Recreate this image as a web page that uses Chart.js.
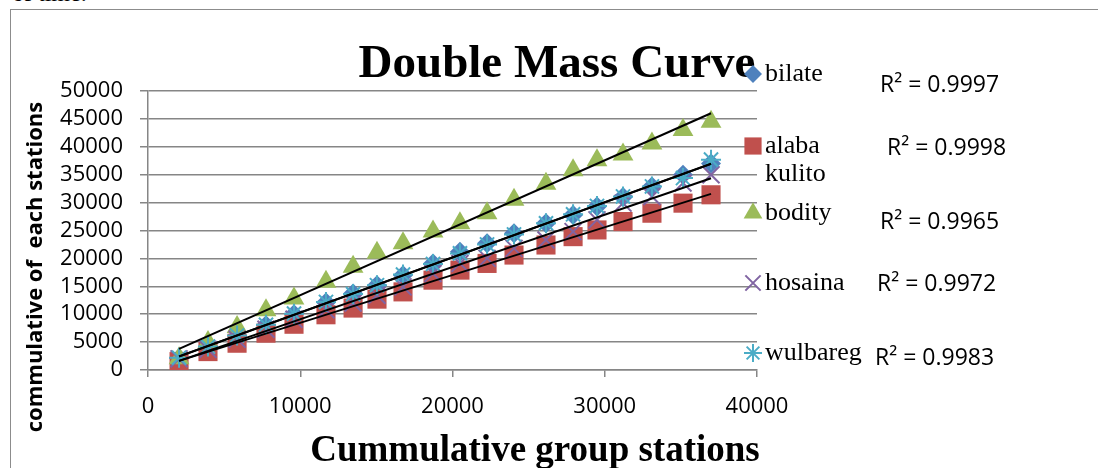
<!DOCTYPE html>
<html>
<head>
<meta charset="utf-8">
<script src="https://cdn.jsdelivr.net/npm/chart.js@4.4.1/dist/chart.umd.min.js"></script>
<style>
  html, body { margin: 0; padding: 0; background: #fff; overflow: hidden; }
  #wrap { position: relative; width: 1098px; height: 468px; }
  #frame { position: absolute; left: 10px; top: 9px; right: 0; bottom: 0; border-left: 1px solid #8c8c8c; border-top: 1px solid #8c8c8c; }
  #prev { position: absolute; left: 12px; top: -20px; font: 24px "Liberation Serif"; color: #000; }
  canvas { position: absolute; left: 0; top: 0; }
</style>
</head>
<body>
<div id="wrap">
  <div id="prev">of time.</div>
  <div id="frame"></div>
  <canvas id="chart" width="1098" height="468"></canvas>
</div>
<script>
// cumulative of the group (x) and of each station (y)
const groupCum = [2040, 3940, 5850, 7750, 9590, 11690, 13470, 15040, 16750, 18720, 20490, 22270, 24040, 26140, 27920, 29490, 31200, 33100, 35140, 36980]
const bilate   = [2100, 4100, 6100, 8000, 10000, 12100, 13700, 15200, 17000, 19100, 21200, 22700, 24500, 26300, 27800, 29300, 31000, 32900, 35000, 37000]
const alaba    = [1500, 3300, 4800, 6600, 8200, 9900, 11100, 12700, 14000, 16100, 17900, 19100, 20600, 22400, 23900, 25100, 26600, 28100, 29900, 31400]
const kulito   = []
const bodity   = [2100, 5000, 7700, 10700, 12800, 15800, 18500, 21000, 22700, 24800, 26300, 28100, 30500, 33400, 35800, 37600, 38600, 40600, 43000, 44500]
const hosaina  = [2000, 3700, 5500, 7300, 9100, 10800, 12000, 13400, 14900, 17300, 19100, 20000, 21800, 23300, 24800, 26900, 29900, 31100, 33500, 35000]
const wulbareg = [2200, 4200, 6200, 8100, 10100, 12200, 13600, 15200, 17100, 19000, 20900, 22500, 24300, 26300, 27900, 29400, 31100, 32900, 34400, 37700]

const stationNames = ['bilate', 'alaba', 'kulito', 'bodity', 'hosaina', 'wulbareg']
const r2Labels = ['R² = 0.9997', 'R² = 0.9998', 'R² = 0.9965', 'R² = 0.9972', 'R² = 0.9983']

const xTicks = [0, 10000, 20000, 30000, 40000]
const yTicks = [0, 5000, 10000, 15000, 20000, 25000, 30000, 35000, 40000, 45000, 50000]

const stations = [
  {name: 'bilate', values: bilate, color: '#4F81BD', style: 'rectRot', radius: 10, trend: true},
  {name: 'alaba', values: alaba, color: '#C0504D', style: 'rect', radius: 13.5, trend: true},
  {name: 'kulito', values: kulito, color: '#F79646', style: false, radius: 0, trend: false},
  {name: 'bodity', values: bodity, color: '#9BBB59', style: 'triangle', radius: 12, trend: true},
  {name: 'hosaina', values: hosaina, color: '#8064A2', style: 'crossRot', radius: 12, trend: true},
  {name: 'wulbareg', values: wulbareg, color: '#4BACC6', style: 'star', radius: 10, trend: true},
]

function linFit(xs, ys) {
  let n = xs.length, sx = 0, sy = 0, sxx = 0, sxy = 0
  for (let i = 0; i < n; i++) {
    sx += xs[i]; sy += ys[i]; sxx += xs[i] * xs[i]; sxy += xs[i] * ys[i]
  }
  let b = (n * sxy - sx * sy) / (n * sxx - sx * sx)
  let a = (sy - b * sx) / n
  return x => a + b * x
}

let datasets = []
stations.forEach((s, i) => {
  let filled = s.style === 'rectRot' || s.style === 'rect' || s.style === 'triangle'
  datasets.push({
    label: s.name,
    data: s.values.map((v, j) => ({x: groupCum[j], y: v})),
    showLine: false,
    pointStyle: s.style,
    pointRadius: s.radius,
    pointBackgroundColor: s.color,
    pointBorderColor: s.color,
    pointBorderWidth: filled ? 0 : 2,
    order: 10 - i
  })
})
stations.forEach(s => {
  if (!s.trend) return
  let f = linFit(groupCum, s.values)
  let x0 = groupCum[0], x1 = groupCum[groupCum.length - 1]
  datasets.push({
    label: s.name + ' trend',
    data: [{x: x0, y: f(x0)}, {x: x1, y: f(x1)}],
    showLine: true,
    borderColor: '#000',
    borderWidth: 2,
    pointRadius: 0,
    order: 0
  })
})

// titles, legend and R² text
const decor = {
  id: 'decor',
  afterDraw(chart) {
    let ctx = chart.ctx
    ctx.save()
    ctx.fillStyle = '#000'
    ctx.textAlign = 'center'
    ctx.textBaseline = 'alphabetic'
    ctx.font = 'bold 47px "Liberation Serif"'
    ctx.fillText('Double Mass Curve', 557, 77)
    ctx.font = 'bold 37px "Liberation Serif"'
    ctx.fillText('Cummulative group stations', 535, 461)

    ctx.save()
    ctx.translate(36, 267)
    ctx.rotate(-Math.PI / 2)
    ctx.textBaseline = 'middle'
    ctx.font = 'bold 22px "Open Sans"'
    ctx.fillText('commulative of  each stations', 0, 0)
    ctx.restore()

    // legend
    let legY = [74, 146, 174, 213, 283, 353]
    ctx.textAlign = 'left'
    ctx.textBaseline = 'middle'
    ctx.font = '26px "Liberation Serif"'
    stations.forEach((s, i) => {
      if (s.style) {
        ctx.fillStyle = s.color
        ctx.strokeStyle = s.color
        ctx.lineWidth = 2
        let filled = s.style === 'rectRot' || s.style === 'rect' || s.style === 'triangle'
        Chart.helpers.drawPoint(ctx, {pointStyle: s.style, radius: s.radius * 0.9, rotation: 0, borderWidth: filled ? 0 : 2}, 753, legY[i])
      }
      ctx.fillStyle = '#000'
      ctx.fillText(stationNames[i], 765, legY[i])
    })

    let r2X = [880, 887, 880, 877, 875]
    let r2Y = [85, 148, 222, 284, 358]
    ctx.font = '23px "Open Sans"'
    r2Labels.forEach((t, i) => ctx.fillText(t, r2X[i], r2Y[i]))
    ctx.restore()
  }
}

document.addEventListener('DOMContentLoaded', () => {
  let ctx = document.getElementById('chart').getContext('2d')

  new Chart(ctx, {
    type: 'scatter',
    data: {datasets: datasets},
    options: {
      responsive: false,
      animation: false,
      layout: {padding: {top: 91, right: 341, bottom: 0, left: 0}},
      plugins: {
        legend: {display: false},
        tooltip: {enabled: false}
      },
      scales: {
        x: {
          type: 'linear',
          min: 0,
          max: 40000,
          afterFit: s => { s.height = 98 },
          afterBuildTicks: s => { s.ticks = xTicks.map(v => ({value: v})) },
          grid: {drawOnChartArea: false, drawTicks: true, tickLength: 7, color: '#868686', lineWidth: 1.5},
          border: {display: true, color: '#868686', width: 1.5},
          ticks: {color: '#000', font: {family: 'Open Sans', size: 22}, padding: 17, maxRotation: 0, autoSkip: false, callback: v => String(v)}
        },
        y: {
          min: 0,
          max: 50000,
          afterFit: s => { s.width = 148 },
          afterBuildTicks: s => { s.ticks = yTicks.map(v => ({value: v})) },
          grid: {color: '#868686', lineWidth: 1.5, drawTicks: true, tickLength: 8},
          border: {display: true, color: '#868686', width: 1.5},
          ticks: {color: '#000', font: {family: 'Open Sans', size: 22}, padding: 17, autoSkip: false, callback: v => String(v)}
        }
      }
    },
    plugins: [decor]
  })
})
</script>
</body>
</html>
